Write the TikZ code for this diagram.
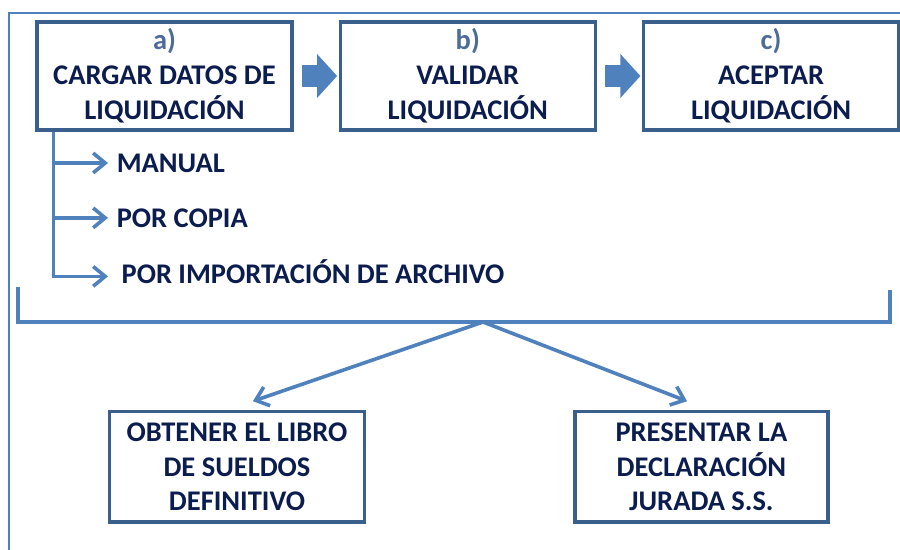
\documentclass[tikz,border=0pt]{standalone}
\usepackage{fontspec}
\setmainfont{Carlito}
\usetikzlibrary{positioning,arrows.meta,calc}
\definecolor{azul}{HTML}{4F81BD}
\definecolor{borde}{HTML}{3A5F8D}
\definecolor{texto}{HTML}{0B1C4E}
\definecolor{letra}{HTML}{4D6C98}
\tikzset{
  paso/.style={draw=borde, line width=0.11cm, minimum width=8.5cm, minimum height=3.6cm, align=center, text=texto, font=\bfseries\fontsize{27}{33}\selectfont},
  opcion/.style={anchor=west, text=texto, font=\bfseries\fontsize{27}{30}\selectfont},
  linea/.style={draw=azul, line width=0.12cm},
  ramal/.style={linea, -{Straight Barb[length=0.4cm,width=0.66cm]}},
  bloque/.style={draw=azul, line width=0.73cm, -{Triangle[length=0.67cm,width=1.43cm]}},
  marco/.style={draw=azul, line width=0.05cm}
}
\begin{document}
\begin{tikzpicture}
\useasboundingbox (0,0) rectangle (30,18.333);
\draw[marco] (0.3,0) -- (0.3,17.9) -- (30,17.9);

\node[paso] (cargar) at (5.483,15.8) {{\color{letra}a)}\\CARGAR DATOS DE\\LIQUIDACIÓN};
\node[paso, right=1.5cm of cargar] (validar) {{\color{letra}b)}\\VALIDAR\\LIQUIDACIÓN};
\node[paso, right=1.5cm of validar] (aceptar) {{\color{letra}c)}\\ACEPTAR\\LIQUIDACIÓN};

\draw[bloque] ($(cargar.east)+(0.27,0)$) -- ($(validar.west)+(-0.05,0)$);
\draw[bloque] ($(validar.east)+(0.27,0)$) -- ($(aceptar.west)+(-0.05,0)$);

% formas de carga
\node[opcion] (manual) at (3.77,12.9) {MANUAL};
\node[opcion] (copia) at (3.77,11.07) {POR COPIA};
\node[opcion] (importar) at (3.93,9.27) {POR IMPORTACIÓN DE ARCHIVO};
\coordinate (rama) at ($(cargar.south west)+(0.6,0)$);
\draw[ramal, shorten >=0.17cm] (rama) |- (manual.west);
\draw[ramal, shorten >=0.17cm] (rama) |- (copia.west);
\draw[ramal, shorten >=0.33cm] (rama) |- ($(importar.west)+(0,-0.15)$);

% llave
\draw[linea] (0.6,8.77) -- (0.6,7.6) -- (29.67,7.6) -- (29.67,8.67);
\coordinate (vertice) at (16.1,7.6);

\node[paso, minimum height=3.67cm] (libro) at (7.9,2.77) {OBTENER EL LIBRO\\DE SUELDOS\\DEFINITIVO};
\node[paso, minimum height=3.67cm, minimum width=8.43cm] (declaracion) at (23.38,2.77) {PRESENTAR LA\\DECLARACIÓN\\JURADA S.S.};

\draw[ramal] (vertice) -- ($(libro.north)+(0.53,0.3)$);
\draw[ramal] (vertice) -- ($(declaracion.north)+(-0.48,0.3)$);
\end{tikzpicture}
\end{document}
